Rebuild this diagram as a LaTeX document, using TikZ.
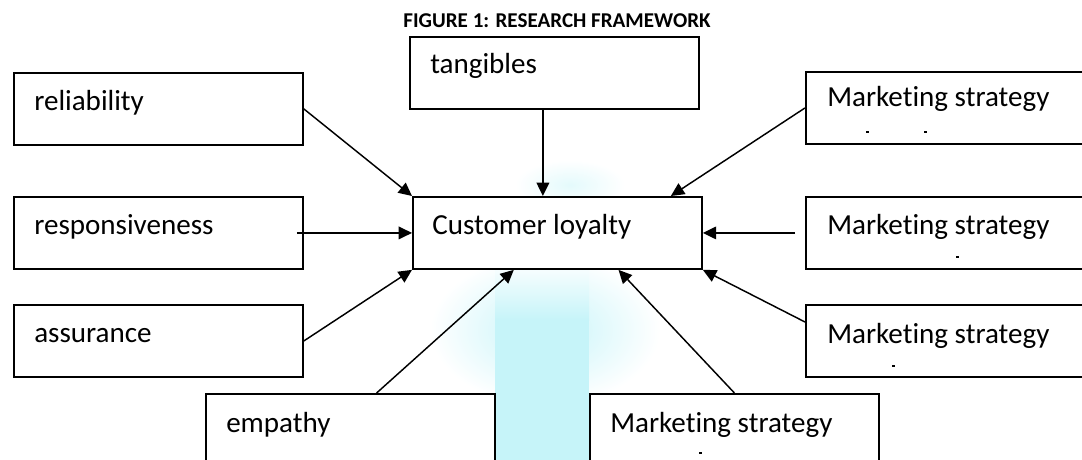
\documentclass[tikz,border=0pt]{standalone}
\usepackage{fontspec}
\setmainfont{Carlito}[Ligatures=NoCommon]
\usepackage{xcolor}
\usetikzlibrary{arrows.meta,positioning,calc}
\definecolor{haze}{HTML}{C6F4F9}
\definecolor{hazelite}{HTML}{E4FAFC}

\begin{document}
\begin{tikzpicture}[x=0.75pt, y=-0.75pt,
  factor/.style={draw=black, line width=1.4pt, fill=white, anchor=north west,
    minimum width=216.75pt, minimum height=54pt, inner sep=0pt},
  edgebox/.style={factor, minimum width=225pt},
  caption/.style={anchor=base west, inner sep=0pt, font=\fontsize{21.8}{26}\selectfont},
  link/.style={line width=1.1pt, -{Triangle[length=10pt,width=9.5pt]}}]

  \useasboundingbox (0,0) rectangle (1082,460);
  \clip (0,0) rectangle (1082,460);

  % watermark behind the boxes
  \shade[inner color=haze, outer color=white] (545,330) ellipse [x radius=115, y radius=75];
  \shade[inner color=hazelite, outer color=white] (570,185) ellipse [x radius=55, y radius=25];
  \shade[top color=white, bottom color=haze] (495,260) rectangle (589,320);
  \fill[haze] (495,320) rectangle (589,460);

  \node[font=\bfseries\fontsize{15.8}{19}\selectfont, anchor=base] (title) at (557,28) {FIGURE 1: RESEARCH FRAMEWORK};

  % left column
  \node[factor] (rel) at (13,72) {};
  \node[caption] (relt) at ($(rel.north west)+(21,38)$) {reliability};
  \node[factor] (resp) at (13,196) {};
  \node[caption] (respt) at ($(resp.north west)+(21,38)$) {responsiveness};
  \node[factor] (asr) at (13,304) {};
  \node[caption] (asrt) at ($(asr.north west)+(21,38)$) {assurance};

  % centre
  \node[factor] (tan) at (409,36) {};
  \node[caption] (tant) at ($(tan.north west)+(21,38)$) {tangibles};
  \node[factor] (cl) at (412,196) {};
  \node[caption] (clt) at ($(cl.north west)+(20,38)$) {Customer loyalty};

  % right column, running off the edge
  \node[edgebox] (ms1) at (805,71) {};
  \node[caption] (ms1t) at ($(ms1.north west)+(22,36)$) {Marketing strategy};
  \node[edgebox] (ms2) at (805,196) {};
  \node[caption] (ms2t) at ($(ms2.north west)+(22,38)$) {Marketing strategy};
  \node[edgebox] (ms3) at (805,304) {};
  \node[caption] (ms3t) at ($(ms3.north west)+(22,39)$) {Marketing strategy};

  % bottom row
  \node[factor] (emp) at (205,393) {};
  \node[caption] (empt) at ($(emp.north west)+(21,39)$) {empathy};
  \node[factor] (msb) at (589,393) {};
  \node[caption] (msbt) at ($(msb.north west)+(21,39)$) {Marketing strategy};

  % cut-off second lines
  \foreach \mx/\my in {867/132, 925/132, 957/257, 893/366, 700/453}
    \fill (\mx-1.5,\my-0.8) rectangle (\mx+1.5,\my+0.8);

  % arrows into customer loyalty
  \path (cl.north west) -- (cl.north east) coordinate[pos=0.45] (cltop);
  \draw[link] (rel.east) -- (cl.north west);
  \draw[link] (tan.south -| cltop) -- (cltop);
  \draw[link] (ms1.west) -- ($(cl.north west)!0.89!(cl.north east)$);
  \draw[link] ($(resp.east)+(-7,0)$) -- (cl.west);
  \draw[link] ($(ms2.west)+(-10,0)$) -- (cl.east);
  \draw[link] (asr.east) -- (cl.south west);
  \draw[link] ($(ms3.north west)+(0,18)$) -- (cl.south east);
  \draw[link] ($(emp.north west)!0.59!(emp.north east)$) -- ($(cl.south west)!0.35!(cl.south east)$);
  \draw[link] (msb.north) -- ($(cl.south west)!0.71!(cl.south east)$);
\end{tikzpicture}
\end{document}
